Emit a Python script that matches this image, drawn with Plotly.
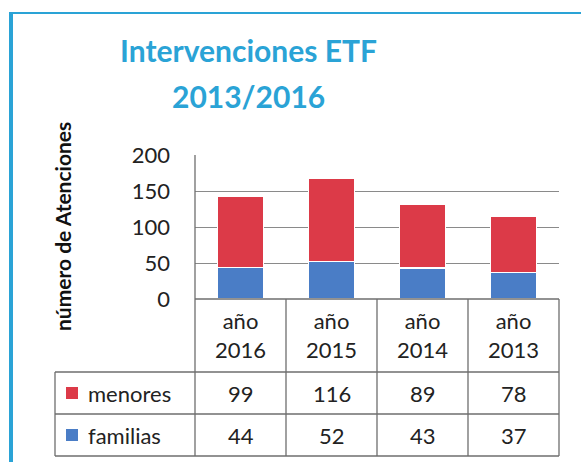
import plotly.graph_objects as go

# Data
categories = ["año 2016", "año 2015", "año 2014", "año 2013"]
menores = [99, 116, 89, 78]
familias = [44, 52, 43, 37]
series_names = ["menores", "familias"]
y_ticks = [0, 50, 100, 150, 200]
title_lines = ["Intervenciones ETF", "2013/2016"]

RED = "#dc3a48"
BLUE = "#4a7dc6"
TITLE_BLUE = "#2aa3d6"
GRID = "#8a8a8a"
FONT = "Lato, Open Sans, sans-serif"

W, H = 581, 462
L, R, T, B = 195, 22, 155, 163  # plot area: x 195..559, y 155..299
PW, PH = W - L - R, H - T - B


def px(xp):
    return (xp - L) / PW


def py(yp):
    return (H - B - yp) / PH


fig = go.Figure()
fig.add_trace(go.Bar(x=categories, y=familias, name=series_names[1],
                     marker=dict(color=BLUE, line=dict(color="white", width=1.2)),
                     width=0.5))
fig.add_trace(go.Bar(x=categories, y=menores, name=series_names[0],
                     marker=dict(color=RED, line=dict(color="white", width=1.2)),
                     width=0.5))

shapes = []
annotations = []
TXT = dict(size=22, color="#222", family=FONT)

# data table grid below the plot
row_y = [299, 372, 414, 456]
n = len(categories)
line = dict(color="#6e6e6e", width=1.3)
for i in range(n + 1):
    xv = i / n
    shapes.append(dict(type="line", xref="paper", yref="paper",
                       x0=xv, x1=xv, y0=py(299), y1=py(456), line=line))
shapes.append(dict(type="line", xref="paper", yref="paper",
                   x0=px(55), x1=px(55), y0=py(372), y1=py(456), line=line))
shapes.append(dict(type="line", xref="paper", yref="paper",
                   x0=0, x1=1, y0=py(299), y1=py(299), line=line))
for yy in row_y[1:]:
    shapes.append(dict(type="line", xref="paper", yref="paper",
                       x0=px(55), x1=1, y0=py(yy), y1=py(yy), line=line))

# header labels
for c in categories:
    annotations.append(dict(x=c, xref="x", y=py(335), yref="paper",
                            xanchor="center", yanchor="middle",
                            text=c.replace(" ", "<br>"), showarrow=False,
                            font=TXT, align="center"))

# value rows with legend keys
rows = [(series_names[0], menores, RED), (series_names[1], familias, BLUE)]
for r, (name, vals, col) in enumerate(rows):
    yc = (row_y[r + 1] + row_y[r + 2]) / 2
    shapes.append(dict(type="rect", xref="paper", yref="paper",
                       x0=px(66), x1=px(78), y0=py(yc - 6), y1=py(yc + 6),
                       fillcolor=col, line=dict(width=0)))
    annotations.append(dict(x=px(86), xref="paper", y=py(yc), yref="paper",
                            xanchor="left", yanchor="middle",
                            text=name, showarrow=False, font=TXT))
    for c, v in zip(categories, vals):
        annotations.append(dict(x=c, xref="x", y=py(yc), yref="paper",
                                xanchor="center", yanchor="middle",
                                text=str(v), showarrow=False, font=TXT))

# title, two lines
for line_text, yline in zip(title_lines, [50, 96]):
    annotations.append(dict(x=px(248), xref="paper", y=py(yline), yref="paper",
                            xanchor="center", yanchor="middle",
                            text="<b>%s</b>" % line_text, showarrow=False,
                            font=dict(size=30, color=TITLE_BLUE, family=FONT)))

# y axis title
annotations.append(dict(x=px(62), xref="paper", y=py(227), yref="paper",
                        xanchor="center", yanchor="middle",
                        text="<b>número de Atenciones</b>", textangle=-90,
                        showarrow=False,
                        font=dict(size=21, color="#111", family=FONT)))

# outer frame (left and top edges)
shapes.append(dict(type="line", xref="paper", yref="paper",
                   x0=px(11), x1=px(11), y0=py(12), y1=py(462),
                   line=dict(color=TITLE_BLUE, width=4)))
shapes.append(dict(type="line", xref="paper", yref="paper",
                   x0=px(9), x1=px(581), y0=py(13), y1=py(13),
                   line=dict(color=TITLE_BLUE, width=2)))

# y axis line
shapes.append(dict(type="line", xref="paper", yref="paper",
                   x0=0, x1=0, y0=0, y1=1, line=line))

fig.update_layout(
    width=W, height=H,
    margin=dict(l=L, r=R, t=T, b=B),
    barmode="stack",
    bargap=0.5,
    showlegend=False,
    plot_bgcolor="white",
    paper_bgcolor="white",
    shapes=shapes,
    annotations=annotations,
    font=dict(family=FONT),
    xaxis=dict(showticklabels=False, showgrid=False, zeroline=False,
               showline=False, ticks="", fixedrange=True),
    yaxis=dict(range=[0, 200], tickvals=y_ticks, showgrid=True,
               gridcolor=GRID, gridwidth=1.3, zeroline=False,
               showline=False, ticks="", ticklabelstandoff=24,
               tickfont=TXT),
)

fig.write_html("out.html")
